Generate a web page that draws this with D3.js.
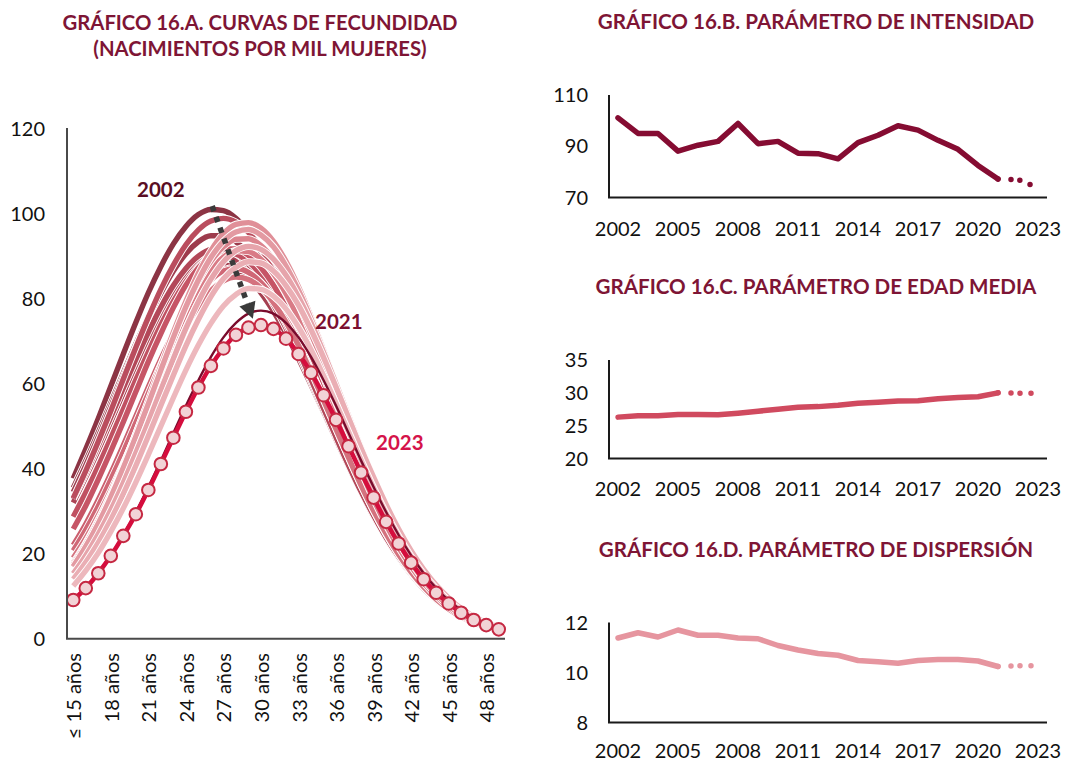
<!DOCTYPE html>
<html>
<head>
<meta charset="utf-8">
<script src="https://cdn.jsdelivr.net/npm/d3@7"></script>
<style>
  body { margin: 0; background: #fff; }
  text { font-family: Lato, "Open Sans", sans-serif; }
</style>
</head>
<body>
<div id="canvas"></div>
<script>
"use strict";

// ages (categories of chart A)
let ages = [15, 16, 17, 18, 19, 20, 21, 22, 23, 24, 25, 26, 27, 28, 29, 30, 31, 32,
    33, 34, 35, 36, 37, 38, 39, 40, 41, 42, 43, 44, 45, 46, 47, 48, 49];
let ageTicks = [15, 18, 21, 24, 27, 30, 33, 36, 39, 42, 45, 48];

// fertility curves, births per 1000 women, by age
let fec2002 = [37.7, 44.6, 51.8, 59.4, 67.0, 74.4, 81.4, 87.6, 92.9, 97.0, 99.8, 101.0, 100.7, 98.9, 95.6, 91.0, 85.2, 78.7, 71.5, 64.0, 56.4, 48.9, 41.8, 35.1, 29.1, 23.7, 19.0, 15.1, 11.7, 9.0, 6.8, 5.0, 3.7, 2.7, 1.9];
let fec2003 = [35.5, 41.8, 48.5, 55.5, 62.5, 69.4, 75.8, 81.7, 86.7, 90.7, 93.4, 94.8, 94.8, 93.4, 90.7, 86.7, 81.7, 75.8, 69.4, 62.5, 55.5, 48.5, 41.8, 35.5, 29.7, 24.5, 19.9, 15.9, 12.5, 9.7, 7.4, 5.6, 4.2, 3.0, 2.2];
let fec2004 = [34.5, 40.8, 47.5, 54.6, 61.7, 68.7, 75.3, 81.3, 86.5, 90.6, 93.4, 94.8, 94.8, 93.4, 90.6, 86.5, 81.3, 75.3, 68.7, 61.7, 54.6, 47.5, 40.8, 34.5, 28.7, 23.5, 19.0, 15.1, 11.8, 9.1, 6.9, 5.1, 3.8, 2.7, 2.0];
let fec2005 = [32.4, 38.2, 44.3, 50.7, 57.1, 63.5, 69.5, 75.0, 79.7, 83.5, 86.3, 87.8, 88.0, 87.0, 84.8, 81.4, 77.0, 71.8, 65.9, 59.7, 53.3, 46.8, 40.6, 34.6, 29.2, 24.2, 19.8, 15.9, 12.6, 9.9, 7.6, 5.8, 4.3, 3.2, 2.3];
let fec2006 = [32.0, 38.0, 44.3, 51.0, 57.7, 64.3, 70.7, 76.5, 81.5, 85.5, 88.4, 90.1, 90.3, 89.2, 86.9, 83.3, 78.6, 73.1, 66.9, 60.4, 53.6, 46.9, 40.5, 34.4, 28.7, 23.7, 19.2, 15.4, 12.1, 9.4, 7.2, 5.4, 4.0, 2.9, 2.1];
let fec2007 = [32.9, 38.9, 45.4, 52.1, 59.0, 65.7, 72.1, 78.0, 83.1, 87.1, 90.0, 91.6, 91.8, 90.6, 88.1, 84.4, 79.6, 74.0, 67.7, 61.0, 54.2, 47.4, 40.8, 34.6, 29.0, 23.8, 19.3, 15.4, 12.1, 9.4, 7.2, 5.4, 4.0, 2.9, 2.1];
let fec2008 = [33.1, 39.5, 46.4, 53.6, 61.1, 68.5, 75.6, 82.2, 87.9, 92.7, 96.2, 98.3, 98.9, 98.0, 95.6, 91.8, 86.8, 80.9, 74.2, 67.0, 59.6, 52.2, 45.0, 38.2, 31.9, 26.3, 21.3, 17.0, 13.4, 10.3, 7.9, 5.9, 4.4, 3.2, 2.3];
let fec2009 = [28.7, 34.4, 40.6, 47.2, 54.0, 60.9, 67.5, 73.8, 79.4, 84.0, 87.6, 90.0, 91.0, 90.5, 88.7, 85.6, 81.4, 76.1, 70.1, 63.5, 56.7, 49.9, 43.2, 36.8, 30.9, 25.5, 20.7, 16.6, 13.1, 10.2, 7.8, 5.9, 4.3, 3.2, 2.3];
let fec2010 = [25.8, 31.3, 37.5, 44.1, 51.0, 58.1, 65.2, 71.8, 77.9, 83.2, 87.3, 90.2, 91.7, 91.7, 90.2, 87.3, 83.2, 77.9, 71.8, 65.2, 58.1, 51.0, 44.1, 37.5, 31.3, 25.8, 20.8, 16.6, 13.0, 10.0, 7.6, 5.7, 4.2, 3.0, 2.1];
let fec2011 = [22.0, 27.0, 32.7, 38.9, 45.5, 52.3, 59.2, 65.8, 71.9, 77.3, 81.7, 85.0, 86.8, 87.3, 86.2, 83.8, 80.1, 75.2, 69.5, 63.2, 56.4, 49.6, 42.8, 36.4, 30.4, 24.9, 20.1, 16.0, 12.5, 9.6, 7.2, 5.4, 3.9, 2.8, 2.0];
let fec2012 = [20.7, 25.6, 31.2, 37.4, 43.9, 50.8, 57.7, 64.5, 70.8, 76.4, 81.0, 84.4, 86.5, 87.1, 86.2, 83.8, 80.1, 75.3, 69.6, 63.2, 56.4, 49.4, 42.6, 36.1, 30.1, 24.6, 19.8, 15.6, 12.2, 9.3, 7.0, 5.1, 3.7, 2.7, 1.9];
let fec2013 = [19.0, 23.6, 29.0, 34.9, 41.2, 47.9, 54.8, 61.4, 67.8, 73.4, 78.2, 81.9, 84.2, 85.1, 84.5, 82.5, 79.1, 74.5, 69.0, 62.8, 56.1, 49.3, 42.6, 36.1, 30.1, 24.7, 19.8, 15.7, 12.2, 9.3, 7.0, 5.2, 3.7, 2.7, 1.9];
let fec2014 = [17.8, 22.5, 28.0, 34.1, 40.9, 48.1, 55.5, 62.9, 70.1, 76.6, 82.3, 86.7, 89.8, 91.3, 91.1, 89.3, 85.9, 81.2, 75.4, 68.7, 61.5, 54.0, 46.6, 39.5, 32.8, 26.8, 21.5, 17.0, 13.1, 10.0, 7.4, 5.4, 3.9, 2.8, 1.9];
let fec2015 = [17.4, 22.2, 27.7, 33.9, 40.8, 48.2, 55.8, 63.6, 71.1, 78.0, 84.0, 88.8, 92.2, 94.0, 94.1, 92.5, 89.2, 84.5, 78.6, 71.8, 64.3, 56.6, 48.9, 41.5, 34.6, 28.3, 22.7, 17.9, 13.8, 10.5, 7.8, 5.7, 4.1, 2.9, 2.0];
let fec2016 = [16.9, 21.6, 27.1, 33.4, 40.5, 48.1, 56.1, 64.2, 72.1, 79.4, 86.0, 91.3, 95.3, 97.5, 97.9, 96.6, 93.5, 88.8, 82.8, 75.8, 68.1, 60.1, 52.0, 44.2, 36.9, 30.2, 24.3, 19.1, 14.8, 11.3, 8.4, 6.2, 4.4, 3.1, 2.2];
let fec2017 = [17.0, 21.7, 27.1, 33.3, 40.2, 47.6, 55.3, 63.2, 70.9, 78.1, 84.4, 89.7, 93.5, 95.7, 96.3, 95.0, 92.2, 87.7, 82.0, 75.3, 67.9, 60.1, 52.2, 44.5, 37.3, 30.7, 24.8, 19.7, 15.4, 11.7, 8.8, 6.5, 4.7, 3.4, 2.3];
let fec2018 = [15.3, 19.6, 24.6, 30.3, 36.7, 43.7, 51.0, 58.5, 65.9, 73.0, 79.3, 84.6, 88.7, 91.3, 92.3, 91.6, 89.3, 85.5, 80.4, 74.3, 67.4, 60.0, 52.5, 45.1, 38.1, 31.6, 25.7, 20.5, 16.1, 12.4, 9.4, 7.0, 5.1, 3.7, 2.6];
let fec2019 = [14.0, 18.0, 22.6, 28.0, 34.1, 40.7, 47.7, 54.9, 62.0, 68.9, 75.1, 80.5, 84.7, 87.4, 88.7, 88.4, 86.5, 83.1, 78.5, 72.7, 66.2, 59.2, 52.0, 44.8, 38.0, 31.6, 25.8, 20.7, 16.3, 12.6, 9.6, 7.1, 5.2, 3.8, 2.7];
let fec2020 = [12.4, 16.0, 20.2, 25.2, 30.7, 36.8, 43.3, 50.0, 56.7, 63.2, 69.1, 74.2, 78.3, 81.0, 82.4, 82.2, 80.6, 77.6, 73.3, 68.0, 61.9, 55.4, 48.7, 42.0, 35.5, 29.5, 24.1, 19.3, 15.2, 11.8, 8.9, 6.6, 4.9, 3.5, 2.5];
let fec2021 = [9.0, 11.9, 15.4, 19.6, 24.4, 29.8, 35.7, 41.9, 48.4, 54.8, 60.8, 66.3, 70.9, 74.3, 76.5, 77.2, 76.5, 74.3, 70.9, 66.3, 60.8, 54.8, 48.4, 41.9, 35.7, 29.8, 24.4, 19.6, 15.4, 11.9, 9.0, 6.7, 4.9, 3.5, 2.5];
let fec2023 = [9.1, 11.9, 15.4, 19.5, 24.2, 29.3, 35.0, 41.1, 47.3, 53.4, 59.1, 64.2, 68.3, 71.5, 73.2, 73.8, 72.9, 70.6, 67.0, 62.6, 57.3, 51.5, 45.3, 39.1, 33.2, 27.5, 22.4, 17.9, 14.0, 10.8, 8.3, 6.1, 4.4, 3.2, 2.2];

let curveYears = [2002, 2003, 2004, 2005, 2006, 2007, 2008, 2009, 2010, 2011,
    2012, 2013, 2014, 2015, 2016, 2017, 2018, 2019, 2020];
let curves = [fec2002, fec2003, fec2004, fec2005, fec2006, fec2007, fec2008, fec2009, fec2010, fec2011,
    fec2012, fec2013, fec2014, fec2015, fec2016, fec2017, fec2018, fec2019, fec2020];

// parameters, charts B, C, D (2022 and 2023 drawn dotted)
let years = [2002, 2003, 2004, 2005, 2006, 2007, 2008, 2009, 2010, 2011, 2012,
    2013, 2014, 2015, 2016, 2017, 2018, 2019, 2020, 2021, 2022, 2023];
let yearTicks = [2002, 2005, 2008, 2011, 2014, 2017, 2020, 2023];
let intensidad = [101.1, 95.0, 95.0, 88.1, 90.4, 91.9, 98.9, 91.0, 91.9, 87.3, 87.1,
    85.1, 91.4, 94.3, 98.0, 96.3, 92.3, 88.8, 82.5, 77.2, 77.0, 73.8];
let edadMedia = [26.3, 26.5, 26.5, 26.7, 26.7, 26.65, 26.9, 27.2, 27.5, 27.8, 27.9,
    28.1, 28.4, 28.55, 28.75, 28.8, 29.1, 29.3, 29.4, 30.0, 29.95, 29.95];
let dispersion = [11.38, 11.59, 11.42, 11.70, 11.49, 11.49, 11.38, 11.35, 11.08, 10.90, 10.76,
    10.69, 10.48, 10.43, 10.37, 10.48, 10.52, 10.52, 10.46, 10.24, 10.27, 10.27];

let titleColor = "#7e1535";

let drawing = d3.select("#canvas")
    .append("svg")
    .attr("width", 1067)
    .attr("height", 761);

drawing.append("rect").attr("width", 1067).attr("height", 761).attr("fill", "#fff");

// ---------- chart A ----------
let xA = d3.scaleBand().domain(ages).range([67, 505]);
let xAge = a => xA(a) + xA.bandwidth() / 2;
let yA = d3.scaleLinear().domain([0, 120]).range([638.7, 128.7]);

drawing.append("text")
    .attr("x", 260).attr("y", 30)
    .attr("text-anchor", "middle")
    .attr("font-size", 20.3).attr("font-weight", "bold")
    .attr("fill", titleColor)
    .text("GRÁFICO 16.A. CURVAS DE FECUNDIDAD");
drawing.append("text")
    .attr("x", 260).attr("y", 56)
    .attr("text-anchor", "middle")
    .attr("font-size", 20.3).attr("font-weight", "bold")
    .attr("fill", titleColor)
    .text("(NACIMIENTOS POR MIL MUJERES)");

let gA = drawing.append("g");

gA.selectAll(".ytick")
    .data(yA.ticks(6))
    .join("text")
    .attr("x", 45)
    .attr("y", d => yA(d))
    .attr("dy", "0.35em")
    .attr("text-anchor", "end")
    .attr("font-size", 20)
    .attr("fill", "#111")
    .text(d => d);

gA.selectAll(".xtick")
    .data(ageTicks)
    .join("text")
    .attr("transform", d => `translate(${xAge(d) + 1},653) rotate(-90)`)
    .attr("dy", "0.35em")
    .attr("text-anchor", "end")
    .attr("font-size", 20)
    .attr("fill", "#111")
    .text(d => d === 15 ? "≤ 15 años" : d + " años");

let shade = d3.scaleLinear()
    .domain([0, 4, 8, 12, 18])
    .range(["#8c3444", "#ad4455", "#c65566", "#d97b86", "#edb8bd"]);

let lineA = d3.line()
    .x((d, i) => xAge(ages[i]))
    .y(d => yA(d))
    .curve(d3.curveMonotoneX);

curves.forEach((c, i) => {
    gA.append("path")
        .attr("d", lineA(c))
        .attr("fill", "none")
        .attr("stroke", "#fff")
        .attr("stroke-width", 7.2);
    gA.append("path")
        .attr("d", lineA(c))
        .attr("fill", "none")
        .attr("stroke", shade(i))
        .attr("stroke-width", 5.4);
});

gA.append("path")
    .attr("d", lineA(fec2021))
    .attr("fill", "none")
    .attr("stroke", "#7a0b2c")
    .attr("stroke-width", 2.4);

gA.append("path")
    .attr("d", lineA(fec2023))
    .attr("fill", "none")
    .attr("stroke", "#d50d3d")
    .attr("stroke-width", 4.5);

gA.selectAll(".mk")
    .data(fec2023)
    .join("circle")
    .attr("cx", (d, i) => xAge(ages[i]))
    .attr("cy", d => yA(d))
    .attr("r", 6.3)
    .attr("fill", "#f2d3d6")
    .attr("stroke", "#c52842")
    .attr("stroke-width", 2);

// axes of chart A
gA.append("line")
    .attr("x1", 67).attr("x2", 67).attr("y1", 128).attr("y2", 638.7)
    .attr("stroke", "#4a4a4a").attr("stroke-width", 2);
gA.append("line")
    .attr("x1", 66).attr("x2", 505).attr("y1", 638.7).attr("y2", 638.7)
    .attr("stroke", "#4a4a4a").attr("stroke-width", 2);

// arrow from the 2002 peak down to the 2021 peak
let ax = d3.scaleLinear().domain([15, 49]).range([xAge(15), xAge(49)]);
let p0 = [ax(26.1), yA(101.8)];
let tip = [ax(29.35), yA(75.3)];
let dx = tip[0] - p0[0], dy = tip[1] - p0[1];
let len = Math.hypot(dx, dy);
let ux = dx / len, uy = dy / len;
let base = [tip[0] - 16 * ux, tip[1] - 16 * uy];
gA.append("line")
    .attr("x1", p0[0]).attr("y1", p0[1])
    .attr("x2", base[0]).attr("y2", base[1])
    .attr("stroke", "#3a3a3a")
    .attr("stroke-width", 5.5)
    .attr("stroke-dasharray", "5.5 6");
gA.append("path")
    .attr("d", `M${tip[0]},${tip[1]}L${base[0] + 8.5 * uy},${base[1] - 8.5 * ux}L${base[0] - 8.5 * uy},${base[1] + 8.5 * ux}Z`)
    .attr("fill", "#3a3a3a");

gA.append("text")
    .attr("x", 137).attr("y", 197)
    .attr("font-size", 20.5).attr("font-weight", "bold")
    .attr("fill", "#5a0d24")
    .text("2002");
gA.append("text")
    .attr("x", 315).attr("y", 329)
    .attr("font-size", 20.5).attr("font-weight", "bold")
    .attr("fill", "#7c1030")
    .text("2021");
gA.append("text")
    .attr("x", 376).attr("y", 450)
    .attr("font-size", 20.5).attr("font-weight", "bold")
    .attr("fill", "#d5134a")
    .text("2023");

// ---------- charts B, C, D ----------
let xR = d3.scaleLinear().domain([2002, 2023]).range([618, 1038]);

function smallChart(title, titleY, values, domain, top, bottom, ticks, color, labelY) {
    let g = drawing.append("g");
    let y = d3.scaleLinear().domain(domain).range([bottom, top]);

    g.append("text")
        .attr("x", 816).attr("y", titleY)
        .attr("text-anchor", "middle")
        .attr("font-size", 20.6).attr("font-weight", "bold")
        .attr("fill", titleColor)
        .text(title);

    g.selectAll(".yt")
        .data(ticks)
        .join("text")
        .attr("x", 588)
        .attr("y", d => y(d))
        .attr("dy", "0.35em")
        .attr("text-anchor", "end")
        .attr("font-size", 20)
        .attr("fill", "#111")
        .text(d => d);

    g.selectAll(".xt")
        .data(yearTicks)
        .join("text")
        .attr("x", d => xR(d))
        .attr("y", labelY)
        .attr("text-anchor", "middle")
        .attr("font-size", 20)
        .attr("fill", "#111")
        .text(d => d);

    g.append("line")
        .attr("x1", 609).attr("x2", 609).attr("y1", top).attr("y2", bottom)
        .attr("stroke", "#1a1a1a").attr("stroke-width", 2);
    g.append("line")
        .attr("x1", 608).attr("x2", 1047).attr("y1", bottom).attr("y2", bottom)
        .attr("stroke", "#1a1a1a").attr("stroke-width", 2);

    let line = d3.line()
        .x(d => xR(d[0]))
        .y(d => y(d[1]));
    let pts = years.map((yr, i) => [yr, values[i]]);

    g.append("path")
        .attr("d", line(pts.filter(p => p[0] <= 2021)))
        .attr("fill", "none")
        .attr("stroke", color)
        .attr("stroke-width", 5.5)
        .attr("stroke-linecap", "round")
        .attr("stroke-linejoin", "round");

    g.append("path")
        .attr("d", line(pts.filter(p => p[0] >= 2021)))
        .attr("fill", "none")
        .attr("stroke", color)
        .attr("stroke-width", 5.5)
        .attr("stroke-linecap", "round")
        .attr("stroke-dasharray", "0 13 0 9 0 11 0 100");
}

smallChart("GRÁFICO 16.B. PARÁMETRO DE INTENSIDAD", 29, intensidad, [70, 110],
    95, 197.5, [70, 90, 110], "#850c32", 236);
smallChart("GRÁFICO 16.C. PARÁMETRO DE EDAD MEDIA", 294, edadMedia, [20, 35],
    360, 458.5, [20, 25, 30, 35], "#d04a5f", 496);
smallChart("GRÁFICO 16.D. PARÁMETRO DE DISPERSIÓN", 557, dispersion, [8, 12],
    622.5, 722.5, [8, 10, 12], "#e6959f", 758);
</script>
</body>
</html>
